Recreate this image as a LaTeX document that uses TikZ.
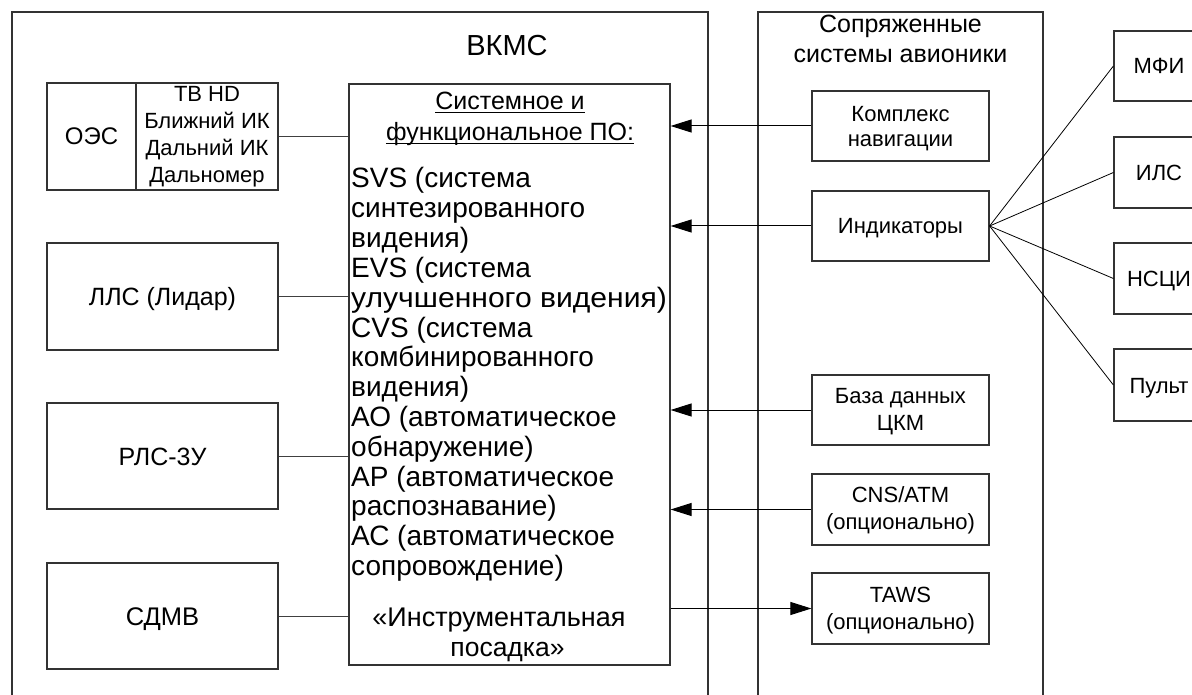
\documentclass[tikz,border=0pt]{standalone}
\usepackage{graphicx}
\usepackage{fontspec}
\setmainfont{Liberation Sans}
\usetikzlibrary{arrows.meta}
\begin{document}
\begin{tikzpicture}[x=1pt,y=-1pt,
  box/.style={draw=black!80, line width=1.2pt, rectangle, inner sep=0pt},
  txt/.style={inner sep=0pt, anchor=base, font=\fontsize{22}{27}\selectfont},
  big/.style={font=\fontsize{#1}{30}\selectfont},
  link/.style={draw=black!75, line width=1pt},
  feed/.style={draw=black, line width=1pt, -{Triangle[length=21pt,width=13pt]}},
  tie/.style={draw=black, line width=0.8pt}]
\useasboundingbox (0,0) rectangle (1192,695);
\clip (0,0) rectangle (1192,695);
\fill[white] (0,0) rectangle (1192,695);

% containers (open towards the bottom edge)
\node[box, minimum width=696, minimum height=698] (vkms) at (360,361) {};
\node[box, minimum width=285, minimum height=698] (sopr) at (900.5,361) {};
\node[txt, big=29] (vkmsT) at (507,56) {ВКМС};
\node[txt, big=25] (soprT1) at (900.5,33) {Сопряженные};
\node[txt, big=25] (soprT2) at (900.5,63) {системы авионики};

% sensors
\node[box, minimum width=231, minimum height=107] (oes) at (162.5,136.5) {};
\draw[box] (136,83) -- (136,190);
\node[txt, big=24] (oesT) at (91.5,145) {ОЭС};
\node[txt] (oes1) at (207,102) {ТВ HD};
\node[txt] (oes2) at (207,129) {Ближний ИК};
\node[txt] (oes3) at (207,156) {Дальний ИК};
\node[txt] (oes4) at (207,183) {Дальномер};

\node[box, minimum width=231, minimum height=107] (lls) at (162.5,296.5) {};
\node[txt, big=25] (llsT) at (162.5,305.5) {ЛЛС (Лидар)};
\node[box, minimum width=231, minimum height=106] (rls) at (162.5,456) {};
\node[txt, big=25] (rlsT) at (162.5,465) {РЛС-3У};
\node[box, minimum width=231, minimum height=106] (sdmv) at (162.5,616) {};
\node[txt, big=25.5] (sdmvT) at (162.5,625) {СДМВ};

% software block
\node[box, minimum width=321, minimum height=581] (po) at (509.5,374.5) {};
\node[txt, big=25] (ttl1) at (510,110) {Системное и\ };
\node[txt, big=25] (ttl2) at (510,141) {функциональное ПО:};
\draw[line width=1.3pt] ([yshift=-2.5pt]ttl1.base west) -- ([yshift=-2.5pt]ttl1.base east);
\draw[line width=1.3pt] ([yshift=-2.5pt]ttl2.base west) -- ([yshift=-2.5pt]ttl2.base east);
\foreach \t [count=\i from 0] in {{SVS (система},{синтезированного},{видения)},
  {EVS (система},{\scalebox{1.075}[1]{улучшенного видения)}},{CVS (система},
  {комбинированного},{видения)},{АО (автоматическое},{обнаружение)},
  {АР (автоматическое},{распознавание)},{АС (автоматическое},{сопровождение)}}
  \node[txt, big=28, anchor=base west] (sw\i) at (351,{188+29.8*\i}) {\t};
\node[txt, big=27] (land1) at (499,626) {«Инструментальная};
\node[txt, big=26.5] (land2) at (507.5,656) {посадка»};

% avionics
\node[box, minimum width=177, minimum height=70] (nav) at (900.5,126) {};
\node[txt] (nav1) at (900.5,122) {Комплекс};
\node[txt] (nav2) at (900.5,147) {навигации};
\node[box, minimum width=177, minimum height=70] (ind) at (900.5,226) {};
\node[txt] (indT) at (900.5,234) {Индикаторы};
\node[box, minimum width=177, minimum height=70] (db) at (900.5,410) {};
\node[txt] (db1) at (900.5,403) {База данных};
\node[txt] (db2) at (900.5,430) {ЦКМ};
\node[box, minimum width=177, minimum height=71] (cns) at (900.5,509.5) {};
\node[txt] (cns1) at (900.5,502) {CNS/ATM};
\node[txt] (cns2) at (900.5,529) {(опционально)};
\node[box, minimum width=177, minimum height=71] (taws) at (900.5,608.5) {};
\node[txt] (taws1) at (900.5,602) {TAWS};
\node[txt] (taws2) at (900.5,629) {(опционально)};

% displays
\node[box, minimum width=90, minimum height=70] (mfi) at (1159,66) {};
\node[txt] (mfiT) at (1159,74) {МФИ};
\node[box, minimum width=90, minimum height=71] (ils) at (1159,172.5) {};
\node[txt] (ilsT) at (1159,180.5) {ИЛС};
\node[box, minimum width=90, minimum height=71] (nsci) at (1159,278.5) {};
\node[txt] (nsciT) at (1159,286.5) {НСЦИ};
\node[box, minimum width=90, minimum height=72] (pult) at (1159,385) {};
\node[txt] (pultT) at (1159,393) {Пульт};

% connectors
\draw[link] (oes.east) -- (oes.east -| po.west);
\draw[link] (lls.east) -- (lls.east -| po.west);
\draw[link] (rls.east) -- (rls.east -| po.west);
\draw[link] (sdmv.east) -- (sdmv.east -| po.west);
\draw[feed] (nav.west) -- (nav.west -| po.east);
\draw[feed] (ind.west) -- (ind.west -| po.east);
\draw[feed] (db.west) -- (db.west -| po.east);
\draw[feed] (cns.west) -- (cns.west -| po.east);
\draw[feed] (taws.west -| po.east) -- (taws.west);
\foreach \d in {mfi,ils,nsci,pult}
  \draw[tie] (ind.east) -- (\d.west);
\end{tikzpicture}
\end{document}
